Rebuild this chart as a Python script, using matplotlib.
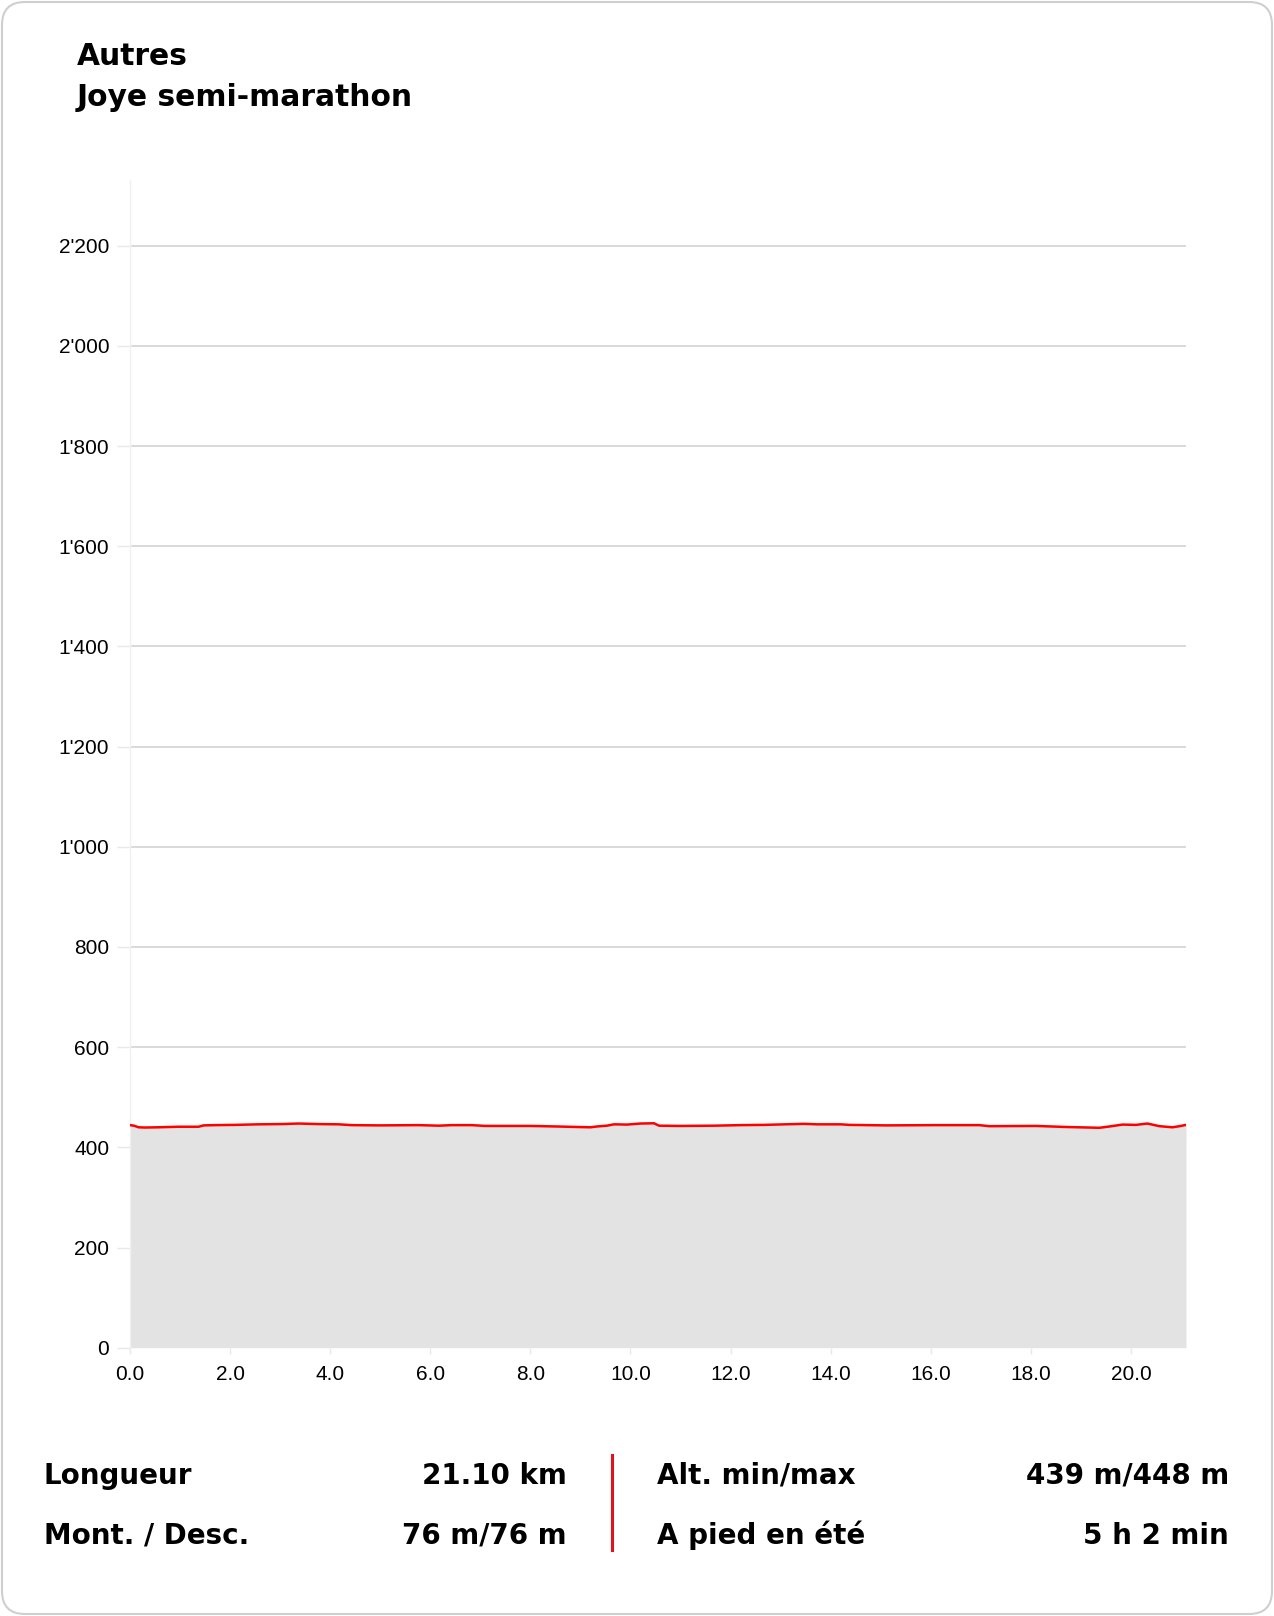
import matplotlib; matplotlib.use("Agg")
import matplotlib.pyplot as plt
from matplotlib.patches import FancyBboxPatch
from matplotlib.ticker import FuncFormatter

# elevation profile (km, m)
km = [0.0, 0.08, 0.17, 0.3, 0.57, 0.97, 1.37, 1.47, 1.7, 2.1, 2.57, 3.03, 3.37, 3.77, 4.17,
      4.43, 4.97, 5.77, 6.17, 6.43, 6.83, 7.1, 8.0, 8.53, 8.93, 9.2, 9.33, 9.53, 9.67, 9.93,
      10.2, 10.47, 10.57, 11.0, 11.67, 12.2, 12.67, 13.47, 13.73, 14.2, 14.37, 15.1, 16.1,
      16.97, 17.17, 18.1, 18.7, 19.37, 19.57, 19.83, 20.1, 20.33, 20.57, 20.83, 20.97, 21.1]
elev = [444.3, 443.2, 440.0, 439.5, 440.0, 441.1, 441.1, 443.8, 444.3, 444.8, 445.9, 446.4,
        447.5, 446.4, 445.9, 444.3, 443.8, 444.3, 443.2, 444.3, 444.3, 442.7, 442.7, 441.6,
        440.6, 440.0, 441.6, 443.2, 445.9, 445.4, 447.5, 448.0, 443.2, 442.7, 443.2, 444.3,
        444.8, 446.9, 445.9, 445.9, 444.8, 443.8, 444.3, 444.3, 442.2, 442.7, 440.6, 439.0,
        441.6, 445.4, 444.8, 447.5, 442.2, 440.0, 442.2, 444.8]

title_lines = ["Autres", "Joye semi-marathon"]
yticks = [0, 200, 400, 600, 800, 1000, 1200, 1400, 1600, 1800, 2000, 2200]
xticks = [0, 2, 4, 6, 8, 10, 12, 14, 16, 18, 20]
stats_left = [("Longueur", "21.10 km"), ("Mont. / Desc.", "76 m/76 m")]
stats_right = [("Alt. min/max", "439 m/448 m"), ("A pied en été", "5 h 2 min")]

W, H = 1274, 1616
fig = plt.figure(figsize=(W/100, H/100), dpi=100)
fig.patch.set_facecolor("white")

# rounded card border
card = FancyBboxPatch((2/W, 2/H), (W-4)/W, (H-4)/H, boxstyle="round,pad=0,rounding_size=0.018",
                      transform=fig.transFigure, fc="none", ec="#cfcfcf", lw=1.5,
                      mutation_aspect=W/H, zorder=-1)
fig.patches.append(card)

bold = dict(family="DejaVu Sans", weight="bold", color="black")
fig.text(77/W, 1-65/H, title_lines[0], fontsize=21.4, va="baseline", **bold)
fig.text(77/W, 1-106/H, title_lines[1], fontsize=21.4, va="baseline", **bold)

ax = fig.add_axes([130/W, 268.3/H, 1056/W, 1167.7/H])
ax.fill_between(km, elev, 0, color="#e3e3e3", lw=0, zorder=2)
ax.plot(km, elev, color="#ff0000", lw=1.8, zorder=3)
ax.set_xlim(0, 21.1)
ax.set_ylim(0, 2331)
ax.set_yticks(yticks)
ax.set_xticks(xticks)
ax.yaxis.set_major_formatter(FuncFormatter(lambda v, p: f"{int(v):,}".replace(",", "'")))
ax.xaxis.set_major_formatter(FuncFormatter(lambda v, p: f"{v:.1f}"))
ax.grid(axis="y", color="#d9d9d9", lw=1.4, zorder=1)
ax.set_axisbelow(True)
for s in ["top", "right", "bottom"]:
    ax.spines[s].set_visible(False)
ax.spines["left"].set_color("#f0f0f0")
ax.spines["left"].set_linewidth(1)
ax.tick_params(axis="y", length=9.4, width=1, color="#e8e8e8", pad=5.5, labelsize=15)
ax.tick_params(axis="x", length=4.3, width=1, color="#e8e8e8", pad=8, labelsize=15)
for lab in ax.get_xticklabels() + ax.get_yticklabels():
    lab.set_family("Liberation Sans")
ax.set_facecolor("none")

# stats block
rows_y = [1484, 1544]
for (name, val), y in zip(stats_left, rows_y):
    fig.text(44/W, 1-y/H, name, fontsize=20, va="baseline", ha="left", **bold)
    fig.text(567/W, 1-y/H, val, fontsize=20, va="baseline", ha="right", **bold)
for (name, val), y in zip(stats_right, rows_y):
    fig.text(657/W, 1-y/H, name, fontsize=20, va="baseline", ha="left", **bold)
    fig.text(1229/W, 1-y/H, val, fontsize=20, va="baseline", ha="right", **bold)
fig.add_artist(plt.Line2D([612/W, 612/W], [1-1455/H, 1-1550/H], color="#e0141e", lw=2.2,
                          transform=fig.transFigure))

fig.savefig("out.png", dpi=100)
